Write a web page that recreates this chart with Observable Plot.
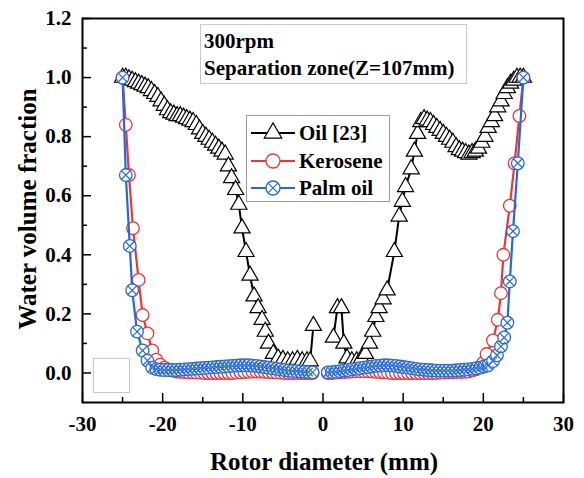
<!DOCTYPE html>
<html><head><meta charset="utf-8">
<script src="https://cdn.jsdelivr.net/npm/d3@7"></script>
<script src="https://cdn.jsdelivr.net/npm/@observablehq/plot@0.6"></script>
<style>body{margin:0;background:#fff}#chart{width:584px;height:478px}</style>
</head><body><div id="chart"></div>
<script>
// ---------------- data ----------------
const seriesNames = ["Oil [23]", "Kerosene", "Palm oil"];
const annotationLines = ["300rpm", "Separation zone(Z=107mm)"];
const xTitle = "Rotor diameter (mm)";
const yTitle = "Water volume fraction";

const xDomain = [-30, 30];
const yDomain = [-0.1, 1.2];
const xMajor = [-30, -20, -10, 0, 10, 20, 30];
const xMinor = [-25, -15, -5, 5, 15, 25];
const yMajor = [0, 0.2, 0.4, 0.6, 0.8, 1.0, 1.2];
const yMinor = [0.1, 0.3, 0.5, 0.7, 0.9, 1.1];

const oilLeftX = [-25, -24.6, -24.2, -23.8, -23.4, -23.0, -22.6, -22.2, -21.8, -21.4, -21.0, -20.6, -20.2, -19.8, -19.4, -19.0, -18.6, -18.2, -17.8, -17.4, -17.0, -16.6, -16.2, -15.8, -15.4, -15.0, -14.6, -14.2, -13.8, -13.4, -13.0, -12.6, -12.2, -11.8, -11.4, -10.9, -10.5, -10.1, -9.6, -9.1, -8.6, -8.1, -7.6, -7.2, -6.8, -6.2, -5.6, -5.0, -4.4, -3.8, -3.2, -2.6, -2.0, -1.6, -1.2];
const oilLeftY = [1.00, 1.00, 0.995, 0.99, 0.985, 0.98, 0.975, 0.97, 0.965, 0.955, 0.945, 0.935, 0.92, 0.905, 0.89, 0.88, 0.875, 0.87, 0.87, 0.865, 0.86, 0.855, 0.85, 0.84, 0.825, 0.81, 0.80, 0.79, 0.78, 0.77, 0.76, 0.75, 0.74, 0.70, 0.66, 0.62, 0.57, 0.49, 0.41, 0.33, 0.26, 0.22, 0.18, 0.14, 0.10, 0.065, 0.05, 0.045, 0.04, 0.04, 0.045, 0.04, 0.04, 0.04, 0.16];
const oilRightX = [1.3, 1.8, 2.3, 2.6, 3.0, 3.6, 4.2, 4.8, 5.3, 5.8, 6.2, 6.6, 7.0, 7.5, 8.0, 8.9, 9.5, 9.9, 10.3, 11.0, 11.4, 11.8, 12.2, 12.6, 13.0, 13.4, 13.8, 14.2, 14.6, 15.0, 15.4, 15.8, 16.2, 16.6, 17.0, 17.4, 17.8, 18.2, 18.6, 19.0, 19.4, 19.8, 20.2, 20.6, 21.0, 21.4, 21.8, 22.2, 22.6, 23.0, 23.4, 23.8, 24.2, 24.6, 25.0];
const oilRightY = [0.12, 0.22, 0.22, 0.10, 0.05, 0.04, 0.04, 0.05, 0.065, 0.10, 0.14, 0.19, 0.22, 0.25, 0.28, 0.41, 0.53, 0.58, 0.63, 0.69, 0.75, 0.81, 0.85, 0.86, 0.855, 0.85, 0.84, 0.83, 0.82, 0.81, 0.80, 0.79, 0.78, 0.765, 0.755, 0.75, 0.745, 0.74, 0.745, 0.75, 0.76, 0.78, 0.80, 0.83, 0.85, 0.87, 0.90, 0.92, 0.945, 0.965, 0.98, 0.99, 1.0, 1.0, 1.0];

const keroLeftX = [-25, -24.6, -24.2, -23.7, -23.0, -22.5, -21.9, -21.3, -20.8, -20.3, -19.8, -19.3, -18.8, -18.3, -17.8, -17.3, -16.8, -16.3, -15.8, -15.3, -14.8, -14.3, -13.8, -13.3, -12.8, -12.3, -11.8, -11.3, -10.8, -10.3, -9.8, -9.3, -8.8, -8.3, -7.8, -7.3, -6.8, -6.3, -5.8, -5.3, -4.8, -4.3, -3.8, -3.3, -2.8, -2.3, -1.8, -1.3];
const keroLeftY = [1.0, 0.84, 0.67, 0.49, 0.315, 0.196, 0.134, 0.076, 0.045, 0.028, 0.018, 0.012, 0.008, 0.005, 0.004, 0.003, 0.002, 0.002, 0.001, 0.001, 0.0, 0.0, 0.0, 0.0, 0.0, 0.0, 0.0, 0.0, 0.001, 0.002, 0.003, 0.004, 0.005, 0.005, 0.005, 0.004, 0.003, 0.002, 0.001, 0.001, 0.0, 0.0, 0.0, 0.0, 0.0, 0.0, 0.0, 0.0];
const keroRightX = [0.6, 1.1, 1.6, 2.1, 2.6, 3.1, 3.6, 4.1, 4.6, 5.1, 5.6, 6.1, 6.6, 7.1, 7.6, 8.1, 8.6, 9.1, 9.6, 10.1, 10.6, 11.1, 11.6, 12.1, 12.6, 13.1, 13.6, 14.1, 14.6, 15.1, 15.6, 16.1, 16.6, 17.1, 17.6, 18.1, 18.6, 19.1, 19.6, 20.0, 20.4, 21.2, 21.8, 22.2, 22.5, 23.3, 23.9, 24.5, 25.0];
const keroRightY = [0.0, 0.0, 0.001, 0.002, 0.003, 0.004, 0.005, 0.006, 0.006, 0.006, 0.006, 0.005, 0.004, 0.003, 0.002, 0.001, 0.0, 0.0, 0.0, 0.0, 0.0, 0.0, 0.0, 0.0, 0.0, 0.0, 0.0, 0.0, 0.001, 0.001, 0.002, 0.002, 0.003, 0.003, 0.004, 0.005, 0.008, 0.012, 0.02, 0.035, 0.064, 0.11, 0.18, 0.27, 0.40, 0.566, 0.71, 0.87, 1.0];

const palmLeftX = [-25, -24.6, -24.1, -23.8, -23.2, -22.5, -21.9, -21.3, -20.8, -20.3, -19.8, -19.3, -18.8, -18.3, -17.8, -17.3, -16.8, -16.3, -15.8, -15.3, -14.8, -14.3, -13.8, -13.3, -12.8, -12.3, -11.8, -11.3, -10.8, -10.3, -9.8, -9.3, -8.8, -8.3, -7.8, -7.3, -6.8, -6.3, -5.8, -5.3, -4.8, -4.3, -3.8, -3.3, -2.8, -2.3, -1.8, -1.3];
const palmLeftY = [1.0, 0.67, 0.43, 0.28, 0.14, 0.076, 0.042, 0.018, 0.013, 0.011, 0.01, 0.01, 0.01, 0.01, 0.011, 0.012, 0.013, 0.014, 0.015, 0.016, 0.017, 0.018, 0.019, 0.02, 0.021, 0.022, 0.023, 0.024, 0.025, 0.026, 0.026, 0.026, 0.025, 0.024, 0.022, 0.02, 0.018, 0.016, 0.014, 0.012, 0.01, 0.008, 0.007, 0.006, 0.005, 0.004, 0.003, 0.002];
const palmRightX = [0.6, 1.1, 1.6, 2.1, 2.6, 3.1, 3.6, 4.1, 4.6, 5.1, 5.6, 6.1, 6.6, 7.1, 7.6, 8.1, 8.6, 9.1, 9.6, 10.1, 10.6, 11.1, 11.6, 12.1, 12.6, 13.1, 13.6, 14.1, 14.6, 15.1, 15.6, 16.1, 16.6, 17.1, 17.6, 18.1, 18.6, 19.1, 19.6, 20.1, 20.6, 21.2, 21.7, 22.2, 22.6, 23.0, 23.3, 23.7, 24.3, 25.0];
const palmRightY = [0.002, 0.003, 0.004, 0.006, 0.008, 0.01, 0.012, 0.014, 0.016, 0.018, 0.02, 0.022, 0.024, 0.025, 0.026, 0.026, 0.025, 0.024, 0.022, 0.02, 0.018, 0.016, 0.014, 0.012, 0.011, 0.01, 0.009, 0.008, 0.008, 0.008, 0.008, 0.008, 0.009, 0.01, 0.011, 0.012, 0.014, 0.016, 0.018, 0.022, 0.026, 0.04, 0.06, 0.09, 0.12, 0.17, 0.31, 0.48, 0.71, 1.0];

// ---------------- styling ----------------
const W = 584, H = 478;
const M = {top: 18, right: 21, bottom: 76, left: 82};
const frameW = W - M.left - M.right, frameH = H - M.top - M.bottom;
const FONT = '"Liberation Serif", "Times New Roman", serif';
const RED = "#ee3535", BLUE = "#2468dc";

function rows(xs, ys, side) {
  const n = Math.min(xs.length, ys.length);
  return xs.slice(0, n).map((x, i) => ({x, y: ys[i], side}));
}
const oil = rows(oilLeftX, oilLeftY, "L").concat(rows(oilRightX, oilRightY, "R"));
const kero = rows(keroLeftX, keroLeftY, "L").concat(rows(keroRightX, keroRightY, "R"));
const palm = rows(palmLeftX, palmLeftY, "L").concat(rows(palmRightX, palmRightY, "R"));

const plot = Plot.plot({
  width: W, height: H,
  marginTop: M.top, marginRight: M.right, marginBottom: M.bottom, marginLeft: M.left,
  x: {domain: xDomain},
  y: {domain: yDomain},
  style: {fontFamily: FONT, fontSize: "21px", fontWeight: "bold", color: "black", background: "white", overflow: "visible"},
  marks: [
    Plot.tickX(xMajor, {x: d => d, insetTop: frameH - 9, stroke: "black", strokeWidth: 1.5}),
    Plot.tickX(xMinor, {x: d => d, insetTop: frameH - 5, stroke: "black", strokeWidth: 1.5}),
    Plot.tickY(yMajor, {y: d => d, insetRight: frameW - 9, stroke: "black", strokeWidth: 1.5}),
    Plot.tickY(yMinor, {y: d => d, insetRight: frameW - 5, stroke: "black", strokeWidth: 1.5}),
    Plot.axisX({ticks: xMajor, tickSize: 0, tickPadding: 14, tickFormat: d => String(d), label: null}),
    Plot.axisY({ticks: yMajor, tickSize: 0, tickPadding: 11, tickFormat: d3.format(".1f"), label: null}),
    Plot.line(oil, {x: "x", y: "y", z: "side", stroke: "black", strokeWidth: 2}),
    Plot.dot(oil, {x: "x", y: "y", symbol: "triangle", r: 6, fill: "white", stroke: "black", strokeWidth: 1.2}),
    Plot.line(kero, {x: "x", y: "y", z: "side", stroke: RED, strokeWidth: 2.2}),
    Plot.dot(kero, {x: "x", y: "y", r: 6.3, fill: "white", stroke: RED, strokeWidth: 1.3}),
    Plot.line(palm, {x: "x", y: "y", z: "side", stroke: BLUE, strokeWidth: 2.2}),
    Plot.dot(palm, {x: "x", y: "y", r: 6.3, fill: "white", stroke: BLUE, strokeWidth: 1.3}),
    Plot.dot(palm, {x: "x", y: "y", symbol: "times", r: 3.9, stroke: BLUE, strokeWidth: 1.2}),
    Plot.frame({stroke: "black", strokeWidth: 2})
  ]
});

const svg = d3.select(plot);
// axis titles
svg.append("text").attr("transform", "translate(36,209) rotate(-90)")
  .attr("text-anchor", "middle").attr("font-size", 25).attr("font-weight", "bold")
  .attr("font-family", FONT).text(yTitle);
svg.append("text").attr("x", 324).attr("y", 470)
  .attr("text-anchor", "middle").attr("font-size", 25).attr("font-weight", "bold")
  .attr("font-family", FONT).text(xTitle);

// annotation box
const ann = svg.append("g").attr("font-family", FONT).attr("font-weight", "bold")
  .attr("font-size", 21).attr("text-anchor", "start");
ann.append("rect").attr("x", 200.5).attr("y", 24.5).attr("width", 266).attr("height", 59)
  .attr("fill", "white").attr("stroke", "#c8c8c8");
ann.append("text").attr("x", 204).attr("y", 48).attr("text-anchor", "start").text(annotationLines[0]);
ann.append("text").attr("x", 204).attr("y", 75).attr("text-anchor", "start").text(annotationLines[1]);

// faint leftover box near lower-left
svg.append("rect").attr("x", 93.5).attr("y", 358.5).attr("width", 36).attr("height", 34)
  .attr("fill", "none").attr("stroke", "#c8c8c8");

// legend
const lg = svg.append("g").attr("font-family", FONT).attr("font-weight", "bold")
  .attr("font-size", 21).attr("text-anchor", "start");
lg.append("rect").attr("x", 246.5).attr("y", 115.5).attr("width", 143).attr("height", 86)
  .attr("fill", "white").attr("stroke", "#9a9a9a");
const rowsY = [133, 161, 188];
const cols = ["black", RED, BLUE];
seriesNames.forEach((name, i) => {
  const y = rowsY[i];
  lg.append("line").attr("x1", 251).attr("x2", 295).attr("y1", y).attr("y2", y)
    .attr("stroke", cols[i]).attr("stroke-width", 2.2);
  if (i === 0) {
    lg.append("path").attr("transform", `translate(273,${y})`)
      .attr("d", d3.symbol(d3.symbolTriangle, Math.PI * 6.5 * 6.5)())
      .attr("fill", "white").attr("stroke", "black").attr("stroke-width", 1.2);
  } else {
    lg.append("circle").attr("cx", 273).attr("cy", y).attr("r", 7)
      .attr("fill", "white").attr("stroke", cols[i]).attr("stroke-width", 1.3);
    if (i === 2) {
      lg.append("path").attr("transform", `translate(273,${y})`)
        .attr("d", d3.symbol(d3.symbolTimes, Math.PI * 4.3 * 4.3)())
        .attr("fill", "none").attr("stroke", BLUE).attr("stroke-width", 1.2);
    }
  }
  lg.append("text").attr("x", 299).attr("y", y + 7).attr("text-anchor", "start").text(name);
});

document.getElementById("chart").appendChild(plot);
</script>
</body></html>
